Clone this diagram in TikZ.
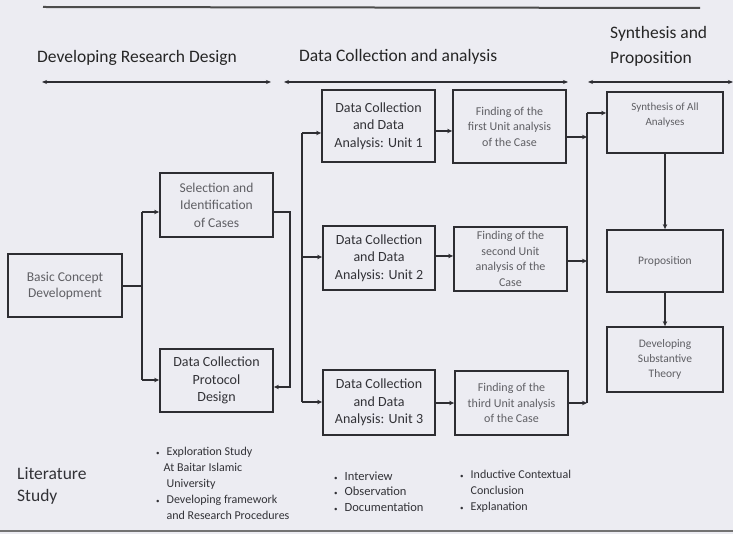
\documentclass[tikz,border=0pt]{standalone}
\usepackage{fontspec}
\setmainfont{Carlito}
\usetikzlibrary{arrows.meta}
\definecolor{bg}{RGB}{236,236,242}
\definecolor{ln}{RGB}{45,45,50}
\definecolor{ft}{RGB}{95,95,100}
\definecolor{dk}{RGB}{50,50,55}
\tikzset{
  box/.style={draw=ln, line width=1.8pt, inner sep=2pt, align=center, anchor=center},
  faint/.style={text=ft, font=\fontsize{12}{15.5}\selectfont},
  dark/.style={text=dk, font=\fontsize{14}{17.5}\selectfont},
  conn/.style={draw=ln, line width=1.4pt},
  arr/.style={conn, -{Stealth[length=5pt,width=4.5pt]}},
  darr/.style={draw=ln, line width=1.6pt, {Stealth[length=5pt,width=4pt]}-{Stealth[length=5pt,width=4pt]}},
  head/.style={text=black!85, font=\fontsize{17.5}{25}\selectfont, anchor=west, inner sep=0pt},
  list/.style={text=dk, anchor=north west, inner sep=0pt, align=left}
}
\begin{document}
\begin{tikzpicture}[x=1pt,y=-1pt]
\fill[bg] (0,0) rectangle (733,534);
\useasboundingbox (0,0) rectangle (733,534);
% top and bottom rules
\coordinate (tl1) at (43,7); \coordinate (tl2) at (700,8);
\draw[draw=black!70, line width=2pt] (tl1) -- (tl2);
\coordinate (bl1) at (0,531); \coordinate (bl2) at (733,531);
\draw[draw=black!55, line width=2pt] (bl1) -- (bl2);
% headings
\node[head] (h1) at (37,58) {Developing Research Design};
\node[head] (h2) at (299,57) {Data Collection and analysis};
\node[head, align=left, anchor=north west] (h3) at (610,26) {Synthesis and\\Proposition};
\coordinate (a1) at (42,82); \coordinate (a2) at (271,82);
\coordinate (a3) at (284,82); \coordinate (a4) at (568,82);
\coordinate (a5) at (588,82); \coordinate (a6) at (733,82);
\draw[darr] (a1) -- (a2);
\draw[darr] (a3) -- (a4);
\draw[darr] (a5) -- (a6);
% boxes
\node[box, faint, minimum width=114pt, minimum height=63pt, font=\fontsize{13.5}{16}\selectfont] (basic) at (65,285.5) {Basic Concept\\Development};
\node[box, faint, minimum width=113pt, minimum height=64pt, font=\fontsize{13.5}{17.5}\selectfont] (sel) at (216.5,205) {Selection and\\Identification\\of Cases};
\node[box, dark, minimum width=113pt, minimum height=63pt] (prot) at (216.5,380.5) {Data Collection\\Protocol\\Design};
\node[box, dark, minimum width=113pt, minimum height=72pt] (u1) at (378.5,126) {Data Collection\\and Data\\Analysis: Unit 1};
\node[box, dark, minimum width=112pt, minimum height=64pt] (u2) at (379,258) {Data Collection\\and Data\\Analysis: Unit 2};
\node[box, dark, minimum width=112pt, minimum height=65pt] (u3) at (379,402.5) {Data Collection\\and Data\\Analysis: Unit 3};
\node[box, faint, minimum width=113pt, minimum height=73pt] (f1) at (509.5,126.5) {Finding of the\\first Unit analysis\\of the Case};
\node[box, faint, minimum width=113pt, minimum height=64pt] (f2) at (510.5,259) {Finding of the\\second Unit\\analysis of the\\Case};
\node[box, faint, minimum width=113pt, minimum height=64pt] (f3) at (511.5,403) {Finding of the\\third Unit analysis\\of the Case};
\node[box, faint, minimum width=116pt, minimum height=61pt, font=\fontsize{11}{15}\selectfont, text depth=16pt] (syn) at (665,122.5) {Synthesis of All\\Analyses};
\node[box, faint, minimum width=116pt, minimum height=62pt, font=\fontsize{11.5}{15}\selectfont] (prop) at (665,261) {Proposition};
\node[box, faint, minimum width=116pt, minimum height=65pt, font=\fontsize{11.5}{15}\selectfont] (dev) at (665,359.5) {Developing\\Substantive\\Theory};
% left connectors
\coordinate (j1) at (142,286);
\coordinate (j1t) at (142,212);
\coordinate (j1b) at (142,380);
\draw[conn] (basic.east |- j1) -- (j1);
\draw[conn] (j1t) -- (j1b);
\draw[arr] (j1t) -- (sel.west |- j1t);
\draw[arr] (j1b) -- (prot.west |- j1b);
\coordinate (s1) at (290,212);
\coordinate (s2) at (290,387);
\draw[arr] (sel.east |- s1) -- (s1) -- (s2) -- (prot.east |- s2);
% unit trunk
\coordinate (tA) at (302,133);
\coordinate (tB) at (302,257);
\coordinate (tC) at (302,402);
\draw[conn] (tA) -- (tC);
\draw[arr] (tA) -- (u1.west |- tA);
\draw[arr] (tB) -- (u2.west |- tB);
\draw[arr] (tC) -- (u3.west |- tC);
% unit to finding
\coordinate (m1) at (440,131);
\coordinate (m2) at (440,256);
\coordinate (m3) at (440,403);
\draw[arr] (u1.east |- m1) -- (f1.west |- m1);
\draw[arr] (u2.east |- m2) -- (f2.west |- m2);
\draw[arr] (u3.east |- m3) -- (f3.west |- m3);
% right trunk
\coordinate (r0) at (587,113);
\coordinate (r1) at (587,137);
\coordinate (r2) at (587,261);
\coordinate (r3) at (587,403);
\draw[conn] (r0) -- (r3);
\draw[arr] (f1.east |- r1) -- (r1);
\draw[arr] (f2.east |- r2) -- (r2);
\draw[arr] (f3.east |- r3) -- (r3);
\draw[arr] (r0) -- (syn.west |- r0);
\draw[arr] (syn.south) -- (prop.north);
\draw[arr] (prop.south) -- (dev.north);
% bottom texts
\node[list, font=\fontsize{17.5}{22}\selectfont] (lit) at (17,467) {Literature\\Study};
\node[list, font=\fontsize{12}{16}\selectfont] (l1) at (156,444) {%
\begin{tabular}{@{}l@{\hspace{7pt}}l@{}}
{\scriptsize•} & Exploration Study\\
 & \hspace{-3pt}At Baitar Islamic\\
 & University\\
{\scriptsize•} & Developing framework\\
 & and Research Procedures
\end{tabular}};
\node[list, font=\fontsize{12.5}{15.5}\selectfont] (l2) at (334,469) {%
\begin{tabular}{@{}l@{\hspace{7pt}}l@{}}
{\scriptsize•} & Interview\\
{\scriptsize•} & Observation\\
{\scriptsize•} & Documentation
\end{tabular}};
\node[list, font=\fontsize{12}{16}\selectfont] (l3) at (460,467) {%
\begin{tabular}{@{}l@{\hspace{7pt}}l@{}}
{\scriptsize•} & Inductive Contextual\\
 & Conclusion\\
{\scriptsize•} & Explanation
\end{tabular}};
\end{tikzpicture}
\end{document}
